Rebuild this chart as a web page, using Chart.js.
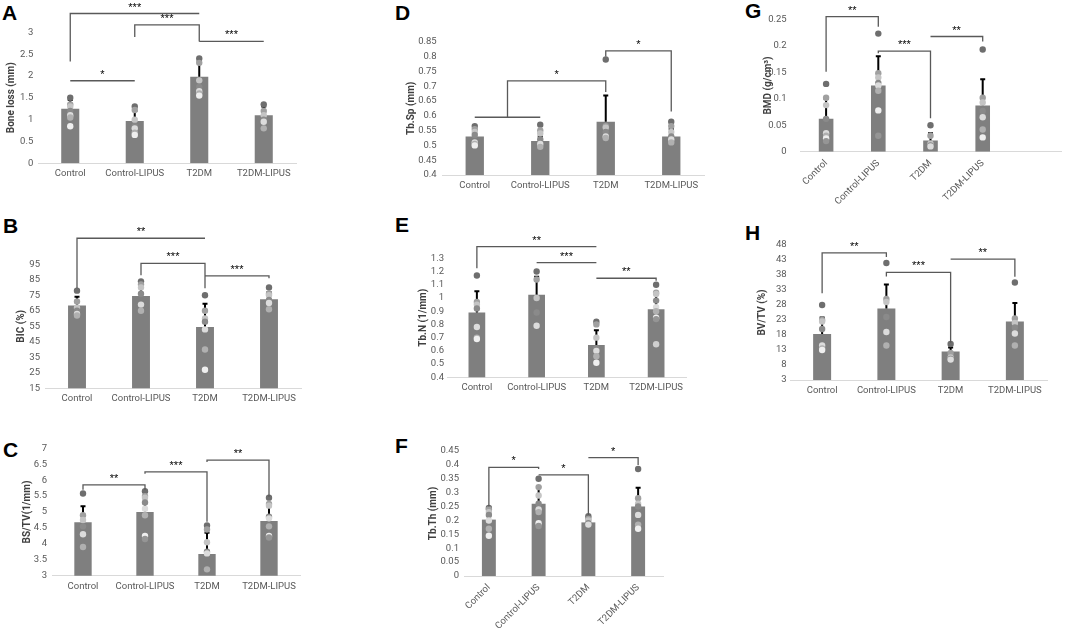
<!DOCTYPE html>
<html>
<head>
<meta charset="utf-8">
<script src="https://cdn.jsdelivr.net/npm/chart.js@4/dist/chart.umd.min.js"></script>
<style>
body { margin: 0; background: #fff; width: 1065px; height: 628px; position: relative; overflow: hidden; }
canvas { position: absolute; }
.lt { position: absolute; font: bold 21px "Liberation Sans", Arial, sans-serif; line-height: 21px; color: #000; }
</style>
</head>
<body>
<script>
const groups = ['Control', 'Control-LIPUS', 'T2DM', 'T2DM-LIPUS'];

// A - bone loss (mm)
const boneLossMean = [1.25, 0.97, 1.98, 1.1];
const boneLossSD = [0.2, 0.23, 0.35, 0.2];
const boneLossDots = [
    [1.5, 1.35, 1.3, 1.2, 1.1, 1.05, 0.85],
    [1.3, 1.22, 1.0, 0.85, 0.8, 0.7, 0.65],
    [2.4, 2.3, 1.9, 1.75, 1.65, 1.6, 1.55],
    [1.35, 1.2, 1.1, 1.0, 0.95, 0.8]
];
const boneLossSig = [[0, 1, 1.89, null, null, '*'], [0, 2, 3.43, 2.33, null, '***'], [1, 2, 3.17, 2.89, 2.79, '***'], [2, 3, 2.79, null, null, '***']];

// B - BIC (%)
const bicMean = [68.5, 74.5, 54.5, 72.5];
const bicSD = [5.5, 5.5, 15, 4.5];
const bicDots = [
    [78, 71, 67, 65, 63, 62],
    [84, 82, 80, 76, 69, 65],
    [75, 65, 60, 58, 53, 40, 27],
    [80, 76, 75, 72, 70, 66]
];
const bicSig = [[0, 2, 111.8, 79.5, null, '**'], [1, 2, 95.6, 88, 79.5, '***'], [2, 3, 87.5, null, 86, '***']];

// C - BS/TV
const bstvMean = [4.68, 5.0, 3.68, 4.72];
const bstvSD = [0.5, 0.5, 0.67, 0.48];
const bstvDots = [
    [5.58, 4.9, 4.75, 4.55, 4.3, 3.9],
    [5.65, 5.5, 5.45, 5.3, 5.1, 4.9, 4.25, 4.15],
    [4.58, 4.45, 4.05, 3.75, 3.7, 3.2],
    [5.45, 5.25, 5.2, 4.85, 4.8, 4.55, 4.25, 4.2]
];
const bstvSig = [[0, 1, 5.85, 5.7, 5.7, '**'], [1, 2, 6.26, 6.2, 4.69, '***'], [2, 3, 6.63, 6.57, 5.48, '**']];

// D - Tb.Sp (mm)
const tbspMean = [0.53, 0.515, 0.58, 0.53];
const tbspSD = [0.02, 0.015, 0.088, 0.025];
const tbspDots = [
    [0.565, 0.555, 0.545, 0.535, 0.51, 0.505, 0.5],
    [0.57, 0.55, 0.54, 0.52, 0.505, 0.495],
    [0.79, 0.565, 0.56, 0.545, 0.53, 0.525],
    [0.58, 0.565, 0.545, 0.53, 0.52, 0.51]
];
const tbspSig = [[0, 1, 0.595, null, null, ''], [0.5, 2, 0.718, 0.595, 0.68, '*'], [2, 3, 0.819, 0.8, 0.614, '*']];

// E - Tb.N (1/mm)
const tbnMean = [0.89, 1.025, 0.645, 0.915];
const tbnSD = [0.16, 0.135, 0.11, 0.115];
const tbnDots = [
    [1.17, 0.97, 0.95, 0.92, 0.78, 0.7, 0.69],
    [1.2, 1.14, 1.0, 0.89, 0.79],
    [0.82, 0.8, 0.7, 0.62, 0.6, 0.56, 0.51],
    [1.1, 1.04, 1.03, 0.98, 0.93, 0.9, 0.85, 0.84, 0.65]
];
const tbnSig = [[0, 2, 1.388, 1.224, null, '**'], [1, 2, 1.267, null, null, '***'], [2, 3, 1.149, null, 1.13, '**']];

// F - Tb.Th (mm)
const tbthMean = [0.203, 0.26, 0.193, 0.25];
const tbthSD = [0.032, 0.06, 0.017, 0.068];
const tbthDots = [
    [0.245, 0.24, 0.23, 0.22, 0.2, 0.17, 0.145],
    [0.35, 0.32, 0.29, 0.26, 0.24, 0.23, 0.19, 0.18],
    [0.215, 0.205, 0.2, 0.19, 0.185],
    [0.385, 0.28, 0.26, 0.25, 0.22, 0.185, 0.17]
];
const tbthSig = [[0, 1, 0.391, 0.25, 0.385, '*'], [1, 2, 0.364, null, 0.22, '*'], [2, 3, 0.426, null, 0.4, '*']];

// G - BMD (g/cm3)
const bmdMean = [0.062, 0.125, 0.021, 0.087];
const bmdSD = [0.038, 0.055, 0.014, 0.05];
const bmdDots = [
    [0.128, 0.102, 0.088, 0.062, 0.035, 0.03, 0.025, 0.02],
    [0.223, 0.148, 0.14, 0.13, 0.125, 0.115, 0.078, 0.03],
    [0.05, 0.03, 0.015, 0.012, 0.01],
    [0.193, 0.102, 0.093, 0.077, 0.065, 0.042, 0.027]
];
const bmdSig = [[0, 1, 0.255, 0.151, 0.236, '**'], [1, 2, 0.19, 0.186, 0.063, '***'], [2, 3, 0.2175, null, 0.208, '**']];

// H - BV/TV (%)
const bvtvMean = [18.3, 26.8, 12.5, 22.5];
const bvtvSD = [5.5, 8, 1.3, 6.2];
const bvtvDots = [
    [28, 23, 22.5, 20, 14.5, 13.5, 13],
    [42, 30, 29, 24, 19, 14.5],
    [15, 12, 10.5, 10, 9.8],
    [35.5, 23.5, 22, 20.5, 18.5, 14.5]
];
const bvtvSig = [[0, 1, 45.4, 31.9, 44, '**'], [1, 2, 38.9, 37.5, 15.4, '***'], [2, 3, 43.3, null, 37.4, '**']];

const shades = ['#6e6e6e', '#a0a0a0', '#c4c4c4', '#8a8a8a', '#dcdcdc', '#b0b0b0', '#efefef', '#959595', '#cfcfcf'];

const panels = [
    { letter: 'A', lx: 2, ly: 2, title: 'Bone loss (mm)', mean: boneLossMean, sd: boneLossSD, dots: boneLossDots, sig: boneLossSig,
      min: 0, max: 3, step: 0.5, L: 0, T: 0, W: 310, H: 200, pl: 38, pr: 296, ytop: 32.3, ybot: 163.3, titleX: 11.7, tickRight: 33.3, rot: 0 },
    { letter: 'B', lx: 3, ly: 215, title: 'BIC (%)', mean: bicMean, sd: bicSD, dots: bicDots, sig: bicSig,
      min: 15, max: 95, step: 10, L: 0, T: 205, W: 315, H: 205, pl: 45, pr: 301, ytop: 264.3, ybot: 388.3, titleX: 21.7, tickRight: 40, rot: 0 },
    { letter: 'C', lx: 3, ly: 439, title: 'BS/TV(1/mm)', mean: bstvMean, sd: bstvSD, dots: bstvDots, sig: bstvSig,
      min: 3, max: 7, step: 0.5, L: 0, T: 425, W: 315, H: 190, pl: 52, pr: 300, ytop: 448.3, ybot: 575.7, titleX: 27, tickRight: 47, rot: 0 },
    { letter: 'D', lx: 395, ly: 2, title: 'Tb.Sp (mm)', mean: tbspMean, sd: tbspSD, dots: tbspDots, sig: tbspSig,
      min: 0.4, max: 0.85, step: 0.05, L: 398, T: 0, W: 320, H: 205, pl: 442, pr: 704, ytop: 41.7, ybot: 175, titleX: 411.7, tickRight: 436.7, rot: 0 },
    { letter: 'E', lx: 395, ly: 214, title: 'Tb.N (1/mm)', mean: tbnMean, sd: tbnSD, dots: tbnDots, sig: tbnSig,
      min: 0.4, max: 1.3, step: 0.1, L: 405, T: 210, W: 295, H: 195, pl: 447, pr: 686, ytop: 258.3, ybot: 377.3, titleX: 423, tickRight: 444, rot: 0 },
    { letter: 'F', lx: 395, ly: 435, title: 'Tb.Th (mm)', mean: tbthMean, sd: tbthSD, dots: tbthDots, sig: tbthSig,
      min: 0, max: 0.45, step: 0.05, L: 420, T: 425, W: 260, H: 203, pl: 464, pr: 663, ytop: 451, ybot: 576, titleX: 433, tickRight: 459, rot: 45 },
    { letter: 'G', lx: 745, ly: 0, title: 'BMD (g/cm³)', mean: bmdMean, sd: bmdSD, dots: bmdDots, sig: bmdSig,
      min: 0, max: 0.25, step: 0.05, L: 755, T: 0, W: 310, H: 215, pl: 800, pr: 1063, ytop: 19.3, ybot: 151.7, titleX: 768, tickRight: 786.7, rot: 45, extra: true },
    { letter: 'H', lx: 745, ly: 222, title: 'BV/TV (%)', mean: bvtvMean, sd: bvtvSD, dots: bvtvDots, sig: bvtvSig,
      min: 3, max: 48, step: 5, L: 748, T: 220, W: 317, H: 185, pl: 790, pr: 1047, ytop: 245, ybot: 380, titleX: 762.7, tickRight: 786.7, rot: 0 }
];

// error bars under the dots, brackets + stars on top of everything
function extras(p) {
    return {
        id: 'extras' + p.letter,
        afterDatasetDraw(chart, args) {
            if (args.index !== 0) return;
            const ys = chart.scales.y, ctx = chart.ctx;
            ctx.save();
            ctx.strokeStyle = '#000';
            ctx.lineWidth = 2;
            args.meta.data.forEach((bar, i) => {
                const top = ys.getPixelForValue(p.mean[i] + p.sd[i]);
                ctx.beginPath();
                ctx.moveTo(bar.x, bar.y);
                ctx.lineTo(bar.x, top);
                ctx.moveTo(bar.x - 2.5, top);
                ctx.lineTo(bar.x + 2.5, top);
                ctx.stroke();
            });
            ctx.restore();
        },
        afterDraw(chart) {
            const xs = chart.scales.x, ys = chart.scales.y, ctx = chart.ctx;
            ctx.save();
            ctx.strokeStyle = '#595959';
            ctx.lineWidth = 1.3;
            ctx.fillStyle = '#000';
            ctx.font = '11px "Liberation Sans", Arial, sans-serif';
            ctx.textAlign = 'center';
            ctx.textBaseline = 'alphabetic';
            p.sig.forEach(([a, b, y, la, lb, txt]) => {
                const x1 = xs.getPixelForValue(a), x2 = xs.getPixelForValue(b), yy = ys.getPixelForValue(y);
                ctx.beginPath();
                ctx.moveTo(x1, la == null ? yy : ys.getPixelForValue(la));
                ctx.lineTo(x1, yy);
                ctx.lineTo(x2, yy);
                ctx.lineTo(x2, lb == null ? yy : ys.getPixelForValue(lb));
                ctx.stroke();
                if (txt) ctx.fillText(txt, (x1 + x2) / 2, yy - 3);
            });
            ctx.restore();
        }
    };
}

panels.forEach(p => {
    const lt = document.createElement('div');
    lt.className = 'lt';
    lt.style.left = p.lx + 'px';
    lt.style.top = p.ly + 'px';
    lt.textContent = p.letter;
    document.body.appendChild(lt);

    const cv = document.createElement('canvas');
    cv.width = p.W;
    cv.height = p.H;
    cv.style.left = p.L + 'px';
    cv.style.top = p.T + 'px';
    document.body.appendChild(cv);

    const labels = p.extra ? groups.concat(['']) : groups;
    const dotData = p.dots.flatMap((arr, g) => arr.map(v => ({ x: groups[g], y: v })));
    const dotColors = p.dots.flatMap(arr => arr.map((v, k) => shades[k % shades.length]));
    const tickFont = { family: 'Roboto', size: 9.5 };

    new Chart(cv, {
        type: 'bar',
        data: {
            labels: labels,
            datasets: [
                { type: 'bar', data: p.mean, backgroundColor: '#7f7f7f', barPercentage: 0.28, categoryPercentage: 1, order: 2 },
                { type: 'scatter', data: dotData, pointBackgroundColor: dotColors, pointBorderWidth: 0, pointRadius: 3.2, order: 1 }
            ]
        },
        options: {
            responsive: false,
            animation: false,
            layout: { padding: { top: p.ytop - p.T, right: p.L + p.W - p.pr, left: 0, bottom: 0 } },
            plugins: { legend: { display: false }, tooltip: { enabled: false } },
            scales: {
                x: {
                    grid: { display: false, drawTicks: false },
                    border: { color: '#d9d9d9' },
                    ticks: { font: tickFont, color: '#595959', padding: p.rot ? 6 : 5, maxRotation: p.rot, minRotation: p.rot, autoSkip: false },
                    afterFit: s => { s.height = p.T + p.H - p.ybot; }
                },
                y: {
                    min: p.min,
                    max: p.max,
                    grid: { display: false, drawTicks: false },
                    border: { display: false },
                    ticks: { stepSize: p.step, autoSkip: false, padding: p.pl - p.tickRight, font: tickFont, color: '#595959',
                             callback: v => String(+v.toFixed(3)) },
                    title: { display: true, text: p.title, color: '#404040',
                             font: { family: 'Roboto', size: 10, weight: 'bold' },
                             padding: { top: p.titleX - p.L - 6, bottom: 0 } },
                    afterFit: s => { s.width = p.pl - p.L; }
                }
            }
        },
        plugins: [extras(p)]
    });
});
</script>
</body>
</html>
